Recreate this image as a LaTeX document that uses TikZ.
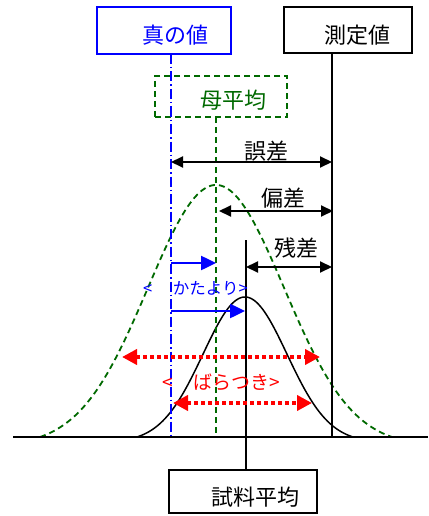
\documentclass[tikz,border=0pt]{standalone}
\usepackage{fontspec}
\setmainfont{Noto Sans CJK JP}
\usetikzlibrary{arrows.meta}
\definecolor{mygreen}{RGB}{0,105,0}
\tikzset{
  lbl/.style={inner sep=0pt, font=\fontsize{22}{26}\selectfont},
  boxline/.style={draw, line width=1.8pt},
  blk/.style={line width=1.5pt},
  dimarrow/.style={line width=2pt, {Triangle[length=12pt,width=11pt]}-{Triangle[length=12pt,width=11pt]}},
  bluearrow/.style={blue, line width=2.5pt, -{Triangle[length=15pt,width=14pt]}},
  redarrow/.style={red, line width=4pt, dash pattern=on 4pt off 3pt, {Triangle[length=15pt,width=15pt]}-{Triangle[length=15pt,width=15pt]}},
  greendash/.style={mygreen, line width=1.8pt, dash pattern=on 6pt off 4pt},
  bluedashdot/.style={blue, line width=1.6pt, dash pattern=on 10pt off 3pt on 1.5pt off 3pt},
}
\begin{document}
\begin{tikzpicture}[x=1pt,y=-1pt]
\useasboundingbox (0,0) rectangle (428,516);

% boxes
\node[boxline, draw=blue, minimum width=134pt, minimum height=47pt, inner sep=0pt] (truebox) at (164,30.5) {};
\node[lbl, text=blue] (truelabel) at (175,35) {真の値};
\node[boxline, draw=black, minimum width=128pt, minimum height=46pt, inner sep=0pt] (measbox) at (348,30) {};
\node[lbl] (measlabel) at (357,35) {測定値};
\node[greendash, draw, minimum width=132pt, minimum height=41pt, inner sep=0pt] (popbox) at (221,96.5) {};
\node[lbl, text=mygreen] (poplabel) at (233,100) {母平均};
\node[boxline, draw=black, minimum width=148pt, minimum height=43pt, inner sep=0pt] (sampbox) at (243,491.5) {};
\node[lbl] (samplabel) at (255,497) {試料平均};

% coordinates
\coordinate (tTop) at (171,54);
\coordinate (tBot) at (171,437);
\coordinate (pTop) at (216,117);
\coordinate (pBot) at (216,437);
\coordinate (mTop) at (332,53);
\coordinate (mBot) at (332,437);
\coordinate (sTop) at (246,240);
\coordinate (sBot) at (246,470);
\coordinate (bL) at (13,437);
\coordinate (bR) at (428,437);

% curves
\draw[greendash] plot[domain=40:392, samples=120] (\x, {437 - 261.2*exp(-0.5*((\x-216)/68)^2) + 9.17});
\draw[blk] plot[domain=137:353, samples=120] (\x, {437 - 145.3*exp(-0.5*((\x-245)/42)^2) + 5.3});

% vertical lines
\draw[bluedashdot] (tTop) -- (tBot);
\draw[greendash] (pTop) -- (pBot);
\draw[blk] (mTop) -- (mBot);
\draw[blk] (sTop) -- (sBot);
\draw[line width=2pt] (bL) -- (bR);

% dimension arrows
\coordinate (e1) at (171,162); \coordinate (e2) at (332,162);
\draw[dimarrow] (e1) -- (e2);
\node[lbl] (errlabel) at (266,151) {誤差};
\coordinate (d1) at (219,211); \coordinate (d2) at (333,211);
\draw[dimarrow] (d1) -- (d2);
\node[lbl] (devlabel) at (283,198) {偏差};
\coordinate (r1) at (246,267); \coordinate (r2) at (332,267);
\draw[dimarrow] (r1) -- (r2);
\node[lbl] (reslabel) at (296,248) {残差};

% bias
\coordinate (b1s) at (171,263); \coordinate (b1e) at (216,263);
\draw[bluearrow] (b1s) -- (b1e);
\coordinate (b2s) at (171,311); \coordinate (b2e) at (245,311);
\draw[bluearrow] (b2s) -- (b2e);
\node[inner sep=0pt, anchor=west, text=blue, font=\fontsize{16.5}{20}\selectfont] (biaslabel) at (143,288) {<\hspace{1.25em}かたより>};

% dispersion
\coordinate (v1s) at (122,357); \coordinate (v1e) at (320,357);
\draw[redarrow] (v1s) -- (v1e);
\coordinate (v2s) at (173,403); \coordinate (v2e) at (312,403);
\draw[redarrow] (v2s) -- (v2e);
\node[inner sep=0pt, anchor=west, text=red, font=\fontsize{19}{22}\selectfont] (displabel) at (162,382) {<\hspace{1.1em}ばらつき>};
\end{tikzpicture}
\end{document}
